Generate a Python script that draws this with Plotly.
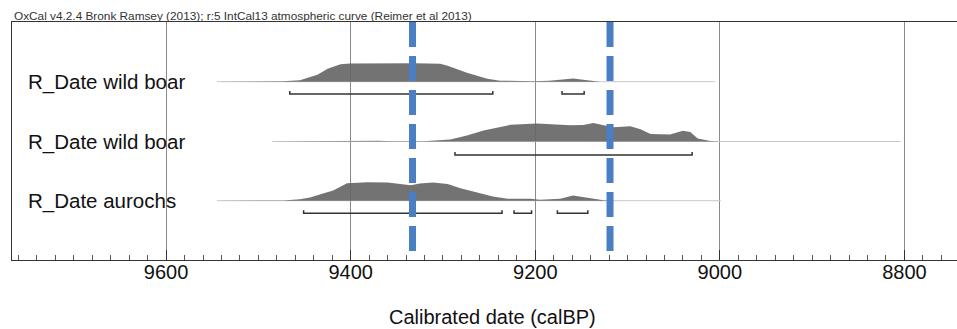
import plotly.graph_objects as go

# ---------------- data ----------------
title_text = "OxCal v4.2.4 Bronk Ramsey (2013); r:5 IntCal13 atmospheric curve (Reimer et al 2013)"
axis_title = "Calibrated date (calBP)"
row_labels = ["R_Date wild boar", "R_Date wild boar", "R_Date aurochs"]
tick_values = [9600, 9400, 9200, 9000, 8800]
tick_labels = ["9600", "9400", "9200", "9000", "8800"]

# calibrated probability distributions (year calBP, relative probability)
boar1_years = [9545, 9500, 9473, 9455, 9436, 9425, 9411, 9401, 9380, 9350, 9330, 9303, 9295,
               9274, 9252, 9238, 9220, 9202, 9185, 9170, 9159, 9148, 9135, 9130]
boar1_prob = [0, 0.2, 0.5, 1.5, 7, 13, 17.5, 18.2, 18.5, 18.3, 18.5, 18, 16,
              9, 3, 1, 0.5, 0.5, 1, 2.5, 3.3, 2, 0.5, 0]
boar1_span = [9545, 9005]
boar1_ranges = [(9466, 9246), (9171, 9147)]

boar2_years = [9485, 9440, 9401, 9370, 9357, 9321, 9292, 9274, 9256, 9238, 9227, 9198, 9176,
               9162, 9148, 9137, 9126, 9115, 9097, 9086, 9075, 9054, 9040, 9032, 9024, 9010, 9000]
boar2_prob = [0, 0.3, 0.8, 0.8, 0.3, 0.3, 2, 6, 11, 14.7, 16.5, 17.7, 17,
              16, 16.3, 18.3, 16, 14, 15, 12, 7.5, 7, 10.7, 9.5, 3, 0.5, 0]
boar2_span = [9485, 8804]
boar2_ranges = [(9287, 9030)]

aur_years = [9545, 9473, 9455, 9444, 9430, 9419, 9404, 9382, 9360, 9346, 9335, 9325, 9311,
             9295, 9281, 9263, 9246, 9230, 9205, 9195, 9173, 9159, 9144, 9126, 9115]
aur_prob = [0, 0.3, 1.5, 3, 7, 10, 17, 18, 17.7, 16.3, 15, 16.7, 17.7,
            16.3, 12, 8, 4, 2, 2, 1, 2, 5, 3, 0.5, 0]
aur_span = [9545, 8999]
aur_ranges = [(9451, 9236), (9223, 9204), (9176, 9143)]

boundaries = [9333, 9119]

# ---------------- layout constants ----------------
W, H = 957, 329
ML, MR, MT, MB = 12, 0, 22, 69
PH = H - MT - MB  # plot height in px
row_base = [178.3, 118.5, 59.3]
row_bracket = [166.0, 105.0, 46.7]
peak_h = 18.5
FONT = "Liberation Sans, Arial, sans-serif"

rows = [
    (boar1_years, boar1_prob, boar1_span, boar1_ranges),
    (boar2_years, boar2_prob, boar2_span, boar2_ranges),
    (aur_years, aur_prob, aur_span, aur_ranges),
]

fig = go.Figure()

for i, (yrs, prob, span, ranges) in enumerate(rows):
    base = row_base[i]
    # baseline
    fig.add_trace(go.Scatter(x=span, y=[base, base], mode="lines",
                             line=dict(color="#c8c8c8", width=1), hoverinfo="skip"))
    # filled distribution
    pmax = max(prob)
    top = [base + peak_h * p / pmax for p in prob]
    xs = list(yrs) + list(reversed(yrs))
    ys = top + [base] * len(yrs)
    fig.add_trace(go.Scatter(x=xs, y=ys, mode="lines", fill="toself",
                             fillcolor="rgba(100,100,100,0.9)",
                             line=dict(width=0, color="rgba(0,0,0,0)"), hoverinfo="skip"))
    # highest probability ranges
    by = row_bracket[i]
    bx, byy = [], []
    for a, b in ranges:
        bx += [a, a, b, b, None]
        byy += [by + 3, by, by, by + 3, None]
    fig.add_trace(go.Scatter(x=bx, y=byy, mode="lines",
                             line=dict(color="#333333", width=1.5), hoverinfo="skip"))
    # label
    fig.add_annotation(x=(26 - ML) / (W - ML - MR), xref="paper", y=base, yref="y",
                       text=row_labels[i], showarrow=False, xanchor="left", yanchor="middle",
                       font=dict(family=FONT, size=20.5, color="#111111"))

# boundary dashed lines
for b in boundaries:
    fig.add_trace(go.Scatter(x=[b, b], y=[PH, 9], mode="lines",
                             line=dict(color="#4a7fc4", width=7, dash="25px,9px"),
                             hoverinfo="skip"))

fig.add_annotation(x=0, xref="paper", y=1 + 6 / PH, yref="paper", text=title_text,
                   showarrow=False, xanchor="left", yanchor="middle",
                   font=dict(family=FONT, size=11.8, color="#333333"))
fig.add_annotation(x=(492 - ML) / (W - ML - MR), xref="paper", y=-(317 - (H - MB)) / PH,
                   yref="paper", text=axis_title, showarrow=False,
                   xanchor="center", yanchor="middle",
                   font=dict(family=FONT, size=20, color="#111111"))

fig.update_layout(
    width=W, height=H, margin=dict(l=ML, r=MR, t=MT, b=MB),
    paper_bgcolor="white", plot_bgcolor="white", showlegend=False,
    xaxis=dict(range=[9767, 8743], tickvals=tick_values, ticktext=tick_labels,
               showgrid=True, gridcolor="#8a8a8a", gridwidth=1,
               ticks="inside", ticklen=10, tickwidth=1, tickcolor="#333333",
               minor=dict(ticks="inside", dtick=20, tick0=0, ticklen=5, tickwidth=1,
                          tickcolor="#555555", showgrid=False),
               showline=True, linecolor="#333333", linewidth=1, mirror=True,
               zeroline=False, tickfont=dict(family=FONT, size=20, color="#111111"),
               ticklabelstandoff=-6, fixedrange=True),
    yaxis=dict(range=[0, PH], showgrid=False, zeroline=False, showticklabels=False,
               showline=True, linecolor="#333333", linewidth=1, ticks="", fixedrange=True),
)

fig.write_html("out.html", config={"displayModeBar": False},
               post_script="document.body.style.margin='0px';document.body.style.overflow='hidden';")
